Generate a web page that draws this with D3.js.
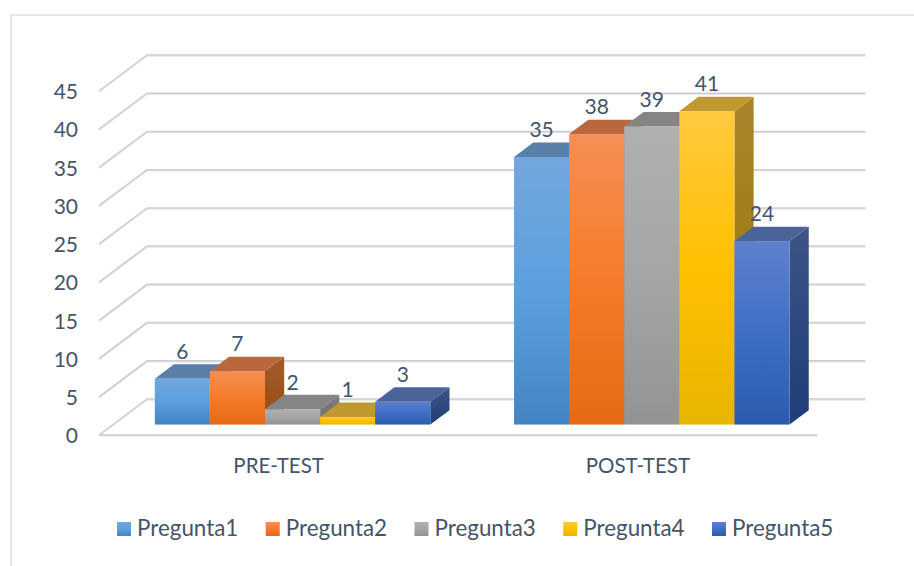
<!DOCTYPE html>
<html>
<head>
<meta charset="utf-8">
<script src="https://cdn.jsdelivr.net/npm/d3@7"></script>
<style>
  html, body { margin: 0; padding: 0; background: #fff; }
  svg { display: block; }
  text { font-family: Lato, "Open Sans", sans-serif; fill: #44546a; }
</style>
</head>
<body>
<div id="app"></div>
<script>
const categories = ['PRE-TEST', 'POST-TEST'];
const series = ['Pregunta1', 'Pregunta2', 'Pregunta3', 'Pregunta4', 'Pregunta5'];
const preTest = [6, 7, 2, 1, 3];
const postTest = [35, 38, 39, 41, 24];
const yTicks = [0, 5, 10, 15, 20, 25, 30, 35, 40, 45];

// [top of face, middle, bottom], top plane, [side top, side bottom]
const faceColors = [
  ['#72a7dd', '#5b9fdf', '#4385c2'],
  ['#f58f55', '#f57b2a', '#e56a14'],
  ['#b0b0b0', '#a5a5a5', '#939393'],
  ['#ffc93f', '#ffc000', '#e8b500'],
  ['#5f80cd', '#3f6fc6', '#2c5bad']
];
const topColors = ['#5a7fa8', '#b9683e', '#858585', '#c09830', '#4a6399'];
const sideColors = [
  ['#3f6c96', '#2f5f8f'],
  ['#a45c2c', '#984a10'],
  ['#7f7f7f', '#6d6d6d'],
  ['#a8852a', '#9c7500'],
  ['#3d5585', '#1f3d78']
];

const width = 914, height = 566;
const floorY = 435, floorLeft = 99, floorRight = 817.5;
// full depth of the floor, the bars sit from 0.29 to 0.69 of it
const wallDx = 48, wallDy = -36;
const barDepth = 0.4, barFront = 0.29;

const svg = d3.select('#app').append('svg')
  .attr('width', width)
  .attr('height', height);

const xScale = d3.scaleBand().domain(categories).range([floorLeft, floorRight]);
const barScale = d3.scaleBand().domain(series).range([0, xScale.bandwidth()]).paddingOuter(0.76);
const yScale = d3.scaleLinear().domain([0, 45]).range([floorY, 91]);

const defs = svg.append('defs');
function addGradient(id, stops) {
  defs.append('linearGradient')
    .attr('id', id)
    .attr('x1', 0).attr('y1', 0).attr('x2', 0).attr('y2', 1)
    .selectAll('stop')
    .data(stops)
    .enter()
    .append('stop')
    .attr('offset', (d, i) => i / (stops.length - 1))
    .attr('stop-color', d => d);
}
faceColors.forEach((c, i) => addGradient('face' + i, c));
sideColors.forEach((c, i) => addGradient('side' + i, c));

// chart frame
svg.append('path')
  .attr('d', `M11,${height}V15H${width}`)
  .attr('fill', 'none')
  .attr('stroke', '#e3e7f0')
  .attr('stroke-width', 2);

// grid on the walls, a soft line below the darker one
const grid = svg.append('g').attr('fill', 'none');
[['#e4e6ea', 1], ['#cdced6', 0]].forEach(([color, shift]) => {
  grid.append('g')
    .selectAll('path')
    .data(yTicks)
    .enter()
    .append('path')
    .attr('d', d => {
      const y = yScale(d) + shift;
      return `M${floorLeft},${y}L${floorLeft + wallDx},${y + wallDy}H${floorRight + wallDx}`;
    })
    .attr('stroke', color)
    .attr('stroke-width', 1.5);
  grid.append('path')
    .attr('d', `M${floorLeft},${floorY + shift}H${floorRight}`)
    .attr('stroke', color)
    .attr('stroke-width', 1.5);
});

// bars, painted left to right so that each one covers its neighbour
const rows = categories.flatMap((c, ci) => {
  const values = ci === 0 ? preTest : postTest;
  return series.map((s, si) => ({ category: c, name: s, index: si, value: values[si] }));
});
const dx = wallDx * barDepth, dy = wallDy * barDepth;
const bar = svg.append('g')
  .selectAll('g')
  .data(rows)
  .enter()
  .append('g')
  .attr('transform', d => {
    const x = xScale(d.category) + barScale(d.name) + wallDx * barFront;
    return `translate(${x},${wallDy * barFront})`;
  });
const barW = barScale.bandwidth();

bar.append('path')
  .attr('d', d => `M${barW},${yScale(d.value)}l${dx},${dy}V${floorY + dy}L${barW},${floorY}Z`)
  .attr('fill', d => `url(#side${d.index})`);
bar.append('path')
  .attr('d', d => `M0,${yScale(d.value)}l${dx},${dy}h${barW}l${-dx},${-dy}Z`)
  .attr('fill', d => topColors[d.index]);
bar.append('rect')
  .attr('x', 0)
  .attr('y', d => yScale(d.value))
  .attr('width', barW)
  .attr('height', d => floorY - yScale(d.value))
  .attr('fill', d => `url(#face${d.index})`);
bar.append('text')
  .attr('x', barW / 2)
  .attr('y', d => yScale(d.value) - 27)
  .attr('dy', '0.35em')
  .attr('text-anchor', 'middle')
  .attr('font-size', 21)
  .text(d => d.value);

// axes
const yAxis = svg.append('g')
  .attr('transform', 'translate(78,1)')
  .call(d3.axisLeft(yScale).tickValues(yTicks).tickSize(0).tickPadding(0));
const xAxis = svg.append('g')
  .attr('transform', `translate(0,${floorY})`)
  .call(d3.axisBottom(xScale).tickSize(0).tickPadding(23));
[yAxis, xAxis].forEach(a => {
  a.select('.domain').remove();
  a.attr('font-family', null);
});
yAxis.selectAll('text').attr('font-size', 21).style('fill', '#44546a');
xAxis.selectAll('text').attr('font-size', 20.5).style('fill', '#44546a');

// legend
const legendScale = d3.scalePoint().domain(series).range([117, 712]);
const legend = svg.append('g')
  .selectAll('g')
  .data(series)
  .enter()
  .append('g')
  .attr('transform', d => `translate(${legendScale(d)},522)`);
legend.append('rect')
  .attr('width', 14)
  .attr('height', 14)
  .attr('fill', (d, i) => `url(#face${i})`);
legend.append('text')
  .attr('x', 20)
  .attr('y', 14)
  .attr('font-size', 22.4)
  .text(d => d);
</script>
</body>
</html>
